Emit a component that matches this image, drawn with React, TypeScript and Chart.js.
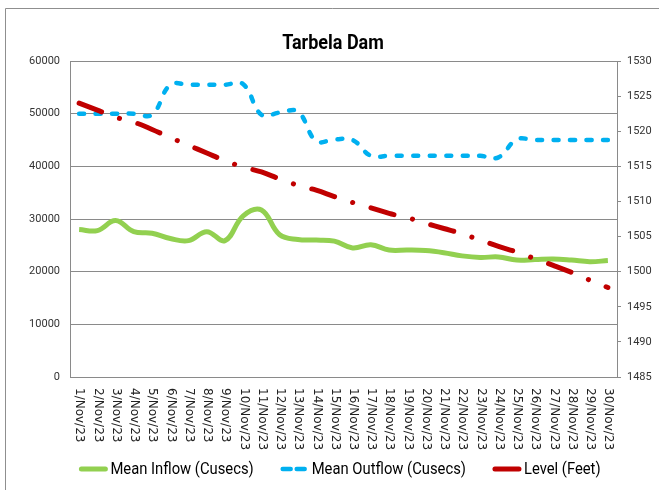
import React, { useEffect, useRef } from "react";
import { Chart, registerables } from "chart.js";

Chart.register(...registerables);

const TITLE = "Tarbela Dam";

const categories = [
  "1/Nov/23", "2/Nov/23", "3/Nov/23", "4/Nov/23", "5/Nov/23", "6/Nov/23",
  "7/Nov/23", "8/Nov/23", "9/Nov/23", "10/Nov/23", "11/Nov/23", "12/Nov/23",
  "13/Nov/23", "14/Nov/23", "15/Nov/23", "16/Nov/23", "17/Nov/23", "18/Nov/23",
  "19/Nov/23", "20/Nov/23", "21/Nov/23", "22/Nov/23", "23/Nov/23", "24/Nov/23",
  "25/Nov/23", "26/Nov/23", "27/Nov/23", "28/Nov/23", "29/Nov/23", "30/Nov/23",
];

const meanInflow = [
  28000, 27800, 29700, 27600, 27300, 26300, 25900, 27600, 25900, 30600,
  31700, 27000, 26100, 26000, 25800, 24500, 25100, 24100, 24100, 24000,
  23600, 23000, 22700, 22800, 22200, 22300, 22400, 22200, 21900, 22100,
];

const meanOutflow = [
  50000, 50000, 50000, 50000, 49800, 55500, 55500, 55500, 55500, 55600,
  49800, 50200, 50400, 44800, 45100, 45000, 42000, 42000, 42000, 42000,
  42000, 42000, 42000, 41700, 45100, 45000, 45000, 45000, 45000, 45000,
];

const levelFeet = [
  1524.0, 1523.0, 1522.0, 1521.3, 1520.25, 1519.1, 1518.0, 1516.9, 1515.8, 1514.9,
  1514.2, 1513.2, 1512.3, 1511.6, 1510.7, 1509.85, 1509.1, 1508.3, 1507.7, 1506.9,
  1506.15, 1505.4, 1504.5, 1503.6, 1502.8, 1501.85, 1500.9, 1499.9, 1498.8, 1497.75,
];

const seriesNames = ["Mean Inflow (Cusecs)", "Mean Outflow (Cusecs)", "Level (Feet)"];

const leftTicks = { min: 0, max: 60000, step: 10000 };
const rightTicks = { min: 1485, max: 1530, step: 5 };

const FONT = "Roboto, 'Liberation Sans', sans-serif";

function scaledText(ctx: any, text: string, x: number, y: number, sx: number, align: string) {
  ctx.save();
  ctx.translate(x, y);
  ctx.scale(sx, 1);
  ctx.textAlign = align;
  ctx.fillText(text, 0, 0);
  ctx.restore();
}

const decorPlugin = {
  id: "decor",
  beforeDraw(chart: any) {
    const ctx = chart.ctx;
    ctx.save();
    ctx.fillStyle = "#ffffff";
    ctx.fillRect(0, 0, chart.width, chart.height);
    ctx.strokeStyle = "#8f8f8f";
    ctx.lineWidth = 1;
    ctx.beginPath();
    ctx.moveTo(5.5, chart.height);
    ctx.lineTo(5.5, 8.5);
    ctx.lineTo(chart.width, 8.5);
    ctx.stroke();
    ctx.restore();
  },
  afterDraw(chart: any) {
    const ctx = chart.ctx;
    const xs = chart.scales.x;
    ctx.save();
    // title
    ctx.fillStyle = "#000000";
    ctx.font = `bold 20px ${FONT}`;
    ctx.textBaseline = "middle";
    scaledText(ctx, TITLE, 333, 44, 0.9, "center");

    // x labels rotated clockwise
    ctx.font = "12px 'DejaVu Sans', sans-serif";
    ctx.fillStyle = "#222222";
    ctx.textAlign = "left";
    ctx.textBaseline = "middle";
    categories.forEach((lab, i) => {
      const x = xs.getPixelForTick(i);
      ctx.save();
      ctx.translate(x + 0.5, chart.chartArea.bottom + 11);
      ctx.rotate(Math.PI / 2);
      ctx.fillText(lab, 0, 0);
      ctx.restore();
    });

    // legend
    const sx = 0.87;
    ctx.font = `17px ${FONT}`;
    ctx.textBaseline = "middle";
    const sw = 28;
    const gap = 3;
    const spacing = 27;
    const widths = seriesNames.map((n) => ctx.measureText(n).width * sx);
    const total = widths.reduce((a, w) => a + sw + gap + w, 0) + spacing * (seriesNames.length - 1);
    let x = 340 - total / 2;
    const y = 469;
    chart.data.datasets.forEach((ds: any, i: number) => {
      ctx.save();
      ctx.strokeStyle = ds.borderColor;
      ctx.lineWidth = ds.borderWidth;
      ctx.lineCap = "round";
      ctx.setLineDash(i === 1 ? [8, 6] : []);
      ctx.beginPath();
      ctx.moveTo(x + 2, y);
      ctx.lineTo(x + sw - 2, y);
      ctx.stroke();
      ctx.restore();
      ctx.fillStyle = "#000000";
      scaledText(ctx, seriesNames[i], x + sw + gap, y + 1, sx, "left");
      x += sw + gap + widths[i] + spacing;
    });
    ctx.restore();
  },
};

export default function App() {
  const ref = useRef<HTMLCanvasElement | null>(null);
  useEffect(() => {
    if (!ref.current) return;
    const chart = new Chart(ref.current, {
      type: "line",
      data: {
        labels: categories,
        datasets: [
          {
            label: seriesNames[0],
            data: meanInflow,
            yAxisID: "y",
            borderColor: "#92D050",
            backgroundColor: "#92D050",
            borderWidth: 5,
            pointRadius: 0,
            tension: 0.4,
            order: 3,
          },
          {
            label: seriesNames[1],
            data: meanOutflow,
            yAxisID: "y",
            borderColor: "#00B0F0",
            backgroundColor: "#00B0F0",
            borderWidth: 4.5,
            borderDash: [5, 11.5],
            borderCapStyle: "round",
            pointRadius: 0,
            tension: 0.4,
            order: 2,
          },
          {
            label: seriesNames[2],
            data: levelFeet,
            yAxisID: "y1",
            borderColor: "#C00000",
            backgroundColor: "#C00000",
            borderWidth: 5,
            borderDash: [24, 19, 0.1, 19],
            borderCapStyle: "round",
            pointRadius: 0,
            tension: 0.4,
            order: 1,
          },
        ],
      },
      options: {
        responsive: false,
        animation: false,
        events: [],
        layout: { padding: { top: 61, bottom: 113, left: 0, right: 0 } },
        plugins: {
          legend: { display: false },
          title: { display: false },
          tooltip: { enabled: false },
        },
        scales: {
          x: {
            type: "category",
            offset: true,
            grid: { display: false },
            border: { display: true, color: "#8a8a8a", width: 1 },
            ticks: { display: false },
            afterFit: (s: any) => {
              s.height = 0;
            },
          },
          y: {
            position: "left",
            min: leftTicks.min,
            max: leftTicks.max,
            ticks: {
              stepSize: leftTicks.step,
              padding: 10,
              color: "#333333",
              font: { family: FONT, size: 11 },
              callback: (v: any) => String(v),
            },
            grid: { color: "#8a8a8a", lineWidth: 1, drawTicks: false },
            border: { display: true, color: "#8a8a8a", width: 1 },
            afterFit: (s: any) => {
              s.width = 70;
            },
          },
          y1: {
            position: "right",
            min: rightTicks.min,
            max: rightTicks.max,
            ticks: {
              stepSize: rightTicks.step,
              padding: 6,
              color: "#333333",
              font: { family: FONT, size: 11 },
              callback: (v: any) => String(v),
            },
            grid: { drawOnChartArea: false, drawTicks: true, tickLength: 4, color: "#8a8a8a" },
            border: { display: true, color: "#8a8a8a", width: 1 },
            afterFit: (s: any) => {
              s.width = 42;
            },
          },
        },
      },
      plugins: [decorPlugin],
    });
    return () => chart.destroy();
  }, []);
  return (
    <div style={{ position: "fixed", left: 0, top: 0, width: 659, height: 490, background: "#fff" }}>
      <canvas ref={ref} width={659} height={490} style={{ display: "block" }} />
    </div>
  );
}
